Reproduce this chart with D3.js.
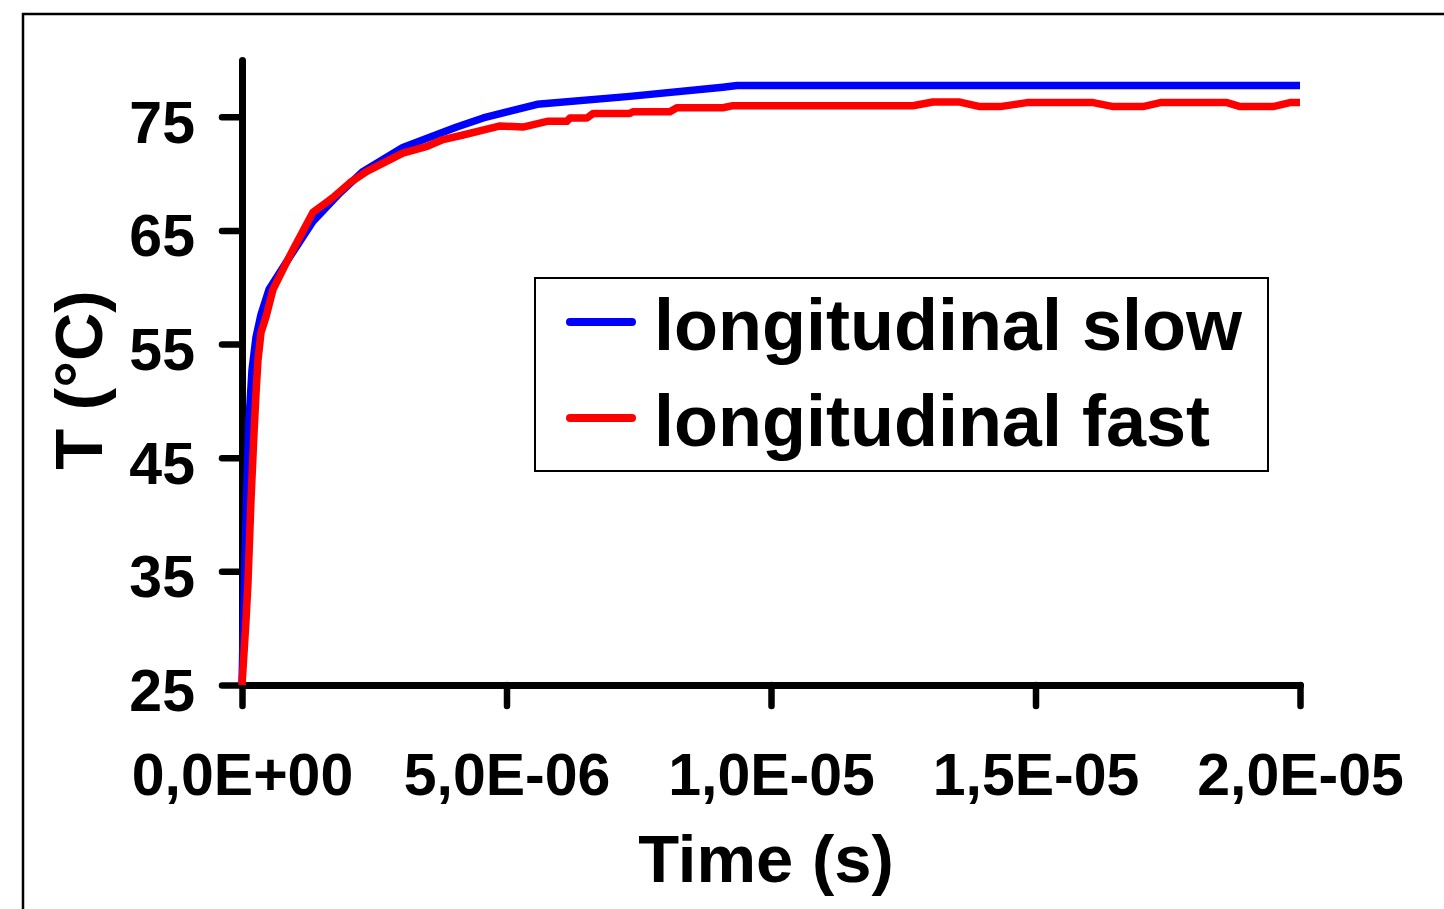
<!DOCTYPE html>
<html>
<head>
<meta charset="utf-8">
<script src="https://cdn.jsdelivr.net/npm/d3@7"></script>
<style>
  body { margin: 0; background: #fff; }
  svg { display: block; font-family: "Liberation Sans", Arial, sans-serif; font-weight: bold; }
</style>
</head>
<body>
<svg width="1444" height="909"></svg>
<script>
//data
var timeSlow = [0, 1.9e-8, 5.7e-8, 9.5e-8, 1.32e-7, 1.89e-7, 2.65e-7, 3.59e-7, 5.1e-7, 9.07e-7,
  1.34e-6, 1.85e-6, 2.29e-6, 3.04e-6, 3.55e-6, 4.06e-6, 4.56e-6, 5.58e-6, 7.33e-6, 9.09e-6, 9.36e-6, 2.0e-5];
var tempSlow = [25, 29, 36, 43, 48.3, 52.7, 55.6, 57.6, 59.8, 62.7,
  65.8, 68.3, 70.2, 72.3, 73.2, 74.1, 74.9, 76.1, 76.8, 77.6, 77.75, 77.75];

var timeFast = [0, 7.6e-8, 1.13e-7, 1.7e-7, 2.27e-7, 2.65e-7, 3.02e-7, 3.59e-7, 4.54e-7, 5.86e-7,
  8.32e-7, 9.64e-7, 1.342e-6, 1.607e-6, 1.72e-6, 2.04e-6, 2.36e-6, 3.04e-6, 3.5e-6, 3.8e-6,
  4.18e-6, 4.88e-6, 5.31e-6, 5.77e-6, 6.14e-6, 6.2e-6, 6.52e-6, 6.64e-6, 7.33e-6, 7.39e-6,
  8.09e-6, 8.22e-6, 9.09e-6, 9.26e-6, 1.268e-5, 1.306e-5, 1.357e-5, 1.395e-5, 1.433e-5, 1.484e-5,
  1.609e-5, 1.647e-5, 1.703e-5, 1.736e-5, 1.862e-5, 1.887e-5, 1.949e-5, 1.981e-5, 2.0e-5];
var tempFast = [25, 30.7, 34, 41.3, 47.2, 50.7, 53.6, 56, 57.4, 59.8,
  62.1, 63.3, 66.6, 67.5, 67.9, 69.2, 70.2, 71.8, 72.4, 73,
  73.4, 74.2, 74.1, 74.6, 74.6, 74.9, 74.9, 75.3, 75.3, 75.45,
  75.45, 75.8, 75.8, 75.97, 75.97, 76.3, 76.3, 75.9, 75.9, 76.25,
  76.25, 75.9, 75.9, 76.25, 76.25, 75.9, 75.9, 76.25, 76.25];

var yTicks = [25, 35, 45, 55, 65, 75];
var xTicks = [0, 5e-6, 1e-5, 1.5e-5, 2e-5];
var xTickLabels = ["0,0E+00", "5,0E-06", "1,0E-05", "1,5E-05", "2,0E-05"];

var seriesNames = ["longitudinal slow", "longitudinal fast"];
var seriesColors = ["#0000ff", "#ff0000"];

var svg = d3.select('svg');

//outer frame, runs off the right and bottom edge
svg.append('rect')
  .attr('x', 23).attr('y', 14)
  .attr('width', 1500).attr('height', 1000)
  .attr('fill', 'none')
  .attr('stroke', '#000')
  .attr('stroke-width', 2.5);

var x = d3.scaleLinear().domain([0, 2e-5]).range([242, 1300]);
var y = d3.scaleLinear().domain([25, 80]).range([685, 60]);

//y axis
var yAxis = svg.append('g')
  .attr('transform', 'translate(242,0)')
  .call(d3.axisLeft(y).tickValues(yTicks).tickSize(20).tickSizeOuter(0).tickPadding(27));

//x axis
var xAxis = svg.append('g')
  .attr('transform', 'translate(0,685)')
  .call(d3.axisBottom(x).tickValues(xTicks).tickSize(21).tickSizeOuter(0).tickPadding(47)
    .tickFormat((d, i) => xTickLabels[i]));

[yAxis, xAxis].forEach(a => {
  a.select('.domain').attr('stroke-width', 7).attr('stroke-linecap', 'round');
  a.selectAll('.tick line').attr('stroke-width', 6.5).attr('stroke-linecap', 'round');
  a.selectAll('.tick text')
    .attr('fill', '#000')
    .style('font-family', '"Liberation Sans", Arial, sans-serif')
    .style('font-weight', 'bold')
    .style('font-size', '59px');
});
yAxis.selectAll('.tick text').attr('dy', '0.43em');

//lines
var line = d3.line()
  .x(d => x(d[0]))
  .y(d => y(d[1]));

var series = [
  d3.zip(timeSlow, tempSlow),
  d3.zip(timeFast, tempFast)
];

svg.selectAll('path.series')
  .data(series)
  .enter().append('path')
  .attr('class', 'series')
  .attr('d', line)
  .attr('fill', 'none')
  .attr('stroke', (d, i) => seriesColors[i])
  .attr('stroke-width', 7.5)
  .attr('stroke-linejoin', 'round');

//axis titles
svg.append('text')
  .attr('x', 766).attr('y', 882)
  .attr('text-anchor', 'middle')
  .style('font-size', '67px')
  .text('Time (s)');

svg.append('text')
  .attr('transform', 'translate(102,380) rotate(-90)')
  .attr('text-anchor', 'middle')
  .style('font-size', '67px')
  .text('T (°C)');

//legend
var legend = svg.append('g');
legend.append('rect')
  .attr('x', 535).attr('y', 278)
  .attr('width', 733).attr('height', 193)
  .attr('fill', '#fff')
  .attr('stroke', '#000')
  .attr('stroke-width', 2);

var items = legend.selectAll('g.item')
  .data(seriesNames)
  .enter().append('g')
  .attr('class', 'item')
  .attr('transform', (d, i) => 'translate(0,' + (322 + i * 96) + ')');

items.append('line')
  .attr('x1', 570).attr('x2', 632)
  .attr('stroke', (d, i) => seriesColors[i])
  .attr('stroke-width', 8)
  .attr('stroke-linecap', 'round');

items.append('text')
  .attr('x', 654).attr('y', 28)
  .style('font-size', '72px')
  .text(d => d);
</script>
</body>
</html>
